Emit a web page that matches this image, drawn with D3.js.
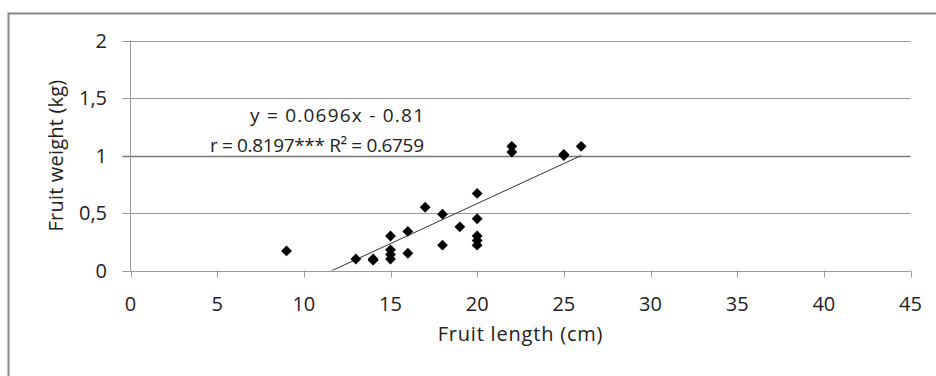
<!DOCTYPE html>
<html>
<head>
<meta charset="utf-8">
<script src="https://cdn.jsdelivr.net/npm/d3@7"></script>
<style>
  body { margin: 0; background: #fff; }
  svg { display: block; font-family: "Open Sans", sans-serif; }
</style>
</head>
<body>
<div id="chart"></div>
<script>
// fruit length (cm) vs fruit weight (kg)
var lengths = [9, 13, 14, 14, 15, 15, 15, 15, 16, 16, 17, 18, 18, 19, 20, 20, 20, 20, 20, 22, 22, 25, 25, 26];
var weights = [0.17, 0.10, 0.10, 0.09, 0.30, 0.18, 0.14, 0.10, 0.34, 0.15, 0.55, 0.49, 0.22, 0.38, 0.67, 0.45, 0.30, 0.26, 0.22, 1.08, 1.03, 1.00, 1.01, 1.08];
var xTicks = [0, 5, 10, 15, 20, 25, 30, 35, 40, 45];
var yTicks = [0, 0.5, 1, 1.5, 2];
var slope = 0.0696, intercept = -0.81;
var eqLines = ["y = 0.0696x - 0.81", "r = 0.8197*** R\u00b2 = 0.6759"];

var W = 936, H = 376;
var margin = {left: 130.5, right: 25.5, top: 40.5, bottom: 105.5};
var fs = 20;

var svg = d3.select("#chart").append("svg")
	.attr("width", W)
	.attr("height", H);

// outer chart frame (runs off the right and bottom edge)
svg.append("rect")
	.attr("x", 8.5).attr("y", 13.5)
	.attr("width", 1000).attr("height", 500)
	.attr("fill", "none")
	.attr("stroke", "#888")
	.attr("stroke-width", 2);

var x = d3.scaleLinear().domain([0, 45]).range([margin.left, W - margin.right]);
var y = d3.scaleLinear().domain([0, 2]).range([H - margin.bottom, margin.top]);

// horizontal gridlines
svg.append("g").selectAll("line")
	.data(yTicks)
	.enter().append("line")
	.attr("x1", x(0) - 8).attr("x2", x(45))
	.attr("y1", function(d) { return Math.round(y(d)) + 0.5; })
	.attr("y2", function(d) { return Math.round(y(d)) + 0.5; })
	.attr("stroke", function(d) { return d == 1 ? "#777" : "#999"; })
	.attr("stroke-width", function(d) { return d == 1 ? 1.5 : 1; });

// y axis line
svg.append("line")
	.attr("x1", x(0)).attr("x2", x(0))
	.attr("y1", y(2)).attr("y2", y(0))
	.attr("stroke", "#999");

// x axis ticks
svg.append("g").selectAll("line")
	.data(xTicks)
	.enter().append("line")
	.attr("x1", function(d) { return Math.round(x(d)) + 0.5; })
	.attr("x2", function(d) { return Math.round(x(d)) + 0.5; })
	.attr("y1", y(0)).attr("y2", y(0) + 7)
	.attr("stroke", "#999");

svg.append("g").selectAll("text")
	.data(xTicks)
	.enter().append("text")
	.attr("x", function(d) { return x(d); })
	.attr("y", y(0) + 40)
	.attr("text-anchor", "middle")
	.attr("font-size", fs)
	.attr("fill", "#222")
	.text(function(d) { return d; });

svg.append("g").selectAll("text")
	.data(yTicks)
	.enter().append("text")
	.attr("x", 107)
	.attr("y", function(d) { return y(d) + 7; })
	.attr("text-anchor", "end")
	.attr("font-size", fs)
	.attr("fill", "#222")
	.text(function(d) { return String(d).replace(".", ","); });

// axis titles
svg.append("text")
	.attr("x", (x(0) + x(45)) / 2)
	.attr("y", 341)
	.attr("text-anchor", "middle")
	.attr("font-size", fs)
	.attr("letter-spacing", 0.8)
	.attr("fill", "#222")
	.text("Fruit length (cm)");

svg.append("text")
	.attr("transform", "translate(63," + (y(1)) + ") rotate(-90)")
	.attr("text-anchor", "middle")
	.attr("font-size", fs)
	.attr("letter-spacing", 0.2)
	.attr("fill", "#222")
	.text("Fruit weight (kg)");

// trend line, clipped to the plot
svg.append("clipPath").attr("id", "plotclip")
	.append("rect")
	.attr("x", x(0)).attr("y", y(2))
	.attr("width", x(45) - x(0)).attr("height", y(0) - y(2));

var x0 = d3.min(lengths), x1 = d3.max(lengths);
svg.append("line")
	.attr("clip-path", "url(#plotclip)")
	.attr("x1", x(x0)).attr("y1", y(slope * x0 + intercept))
	.attr("x2", x(x1)).attr("y2", y(slope * x1 + intercept))
	.attr("stroke", "#333")
	.attr("stroke-width", 1);

// points
var diamond = d3.symbol().type(d3.symbolDiamond2).size(75);
svg.append("g").selectAll("path")
	.data(lengths.map(function(d, i) { return [d, weights[i]]; }))
	.enter().append("path")
	.attr("d", diamond)
	.attr("transform", function(d) { return "translate(" + x(d[0]) + "," + y(d[1]) + ")"; })
	.attr("fill", "#000");

// equation label, stretched to the width the original text takes
var eqWidth = [174, 214];
svg.append("g").selectAll("text")
	.data(eqLines)
	.enter().append("text")
	.attr("x", function(d, i) { return 424 - eqWidth[i]; })
	.attr("y", function(d, i) { return 122 + i * 30; })
	.attr("textLength", function(d, i) { return eqWidth[i]; })
	.attr("lengthAdjust", "spacing")
	.attr("font-size", 19)
	.attr("fill", "#222")
	.text(function(d) { return d; });
</script>
</body>
</html>
